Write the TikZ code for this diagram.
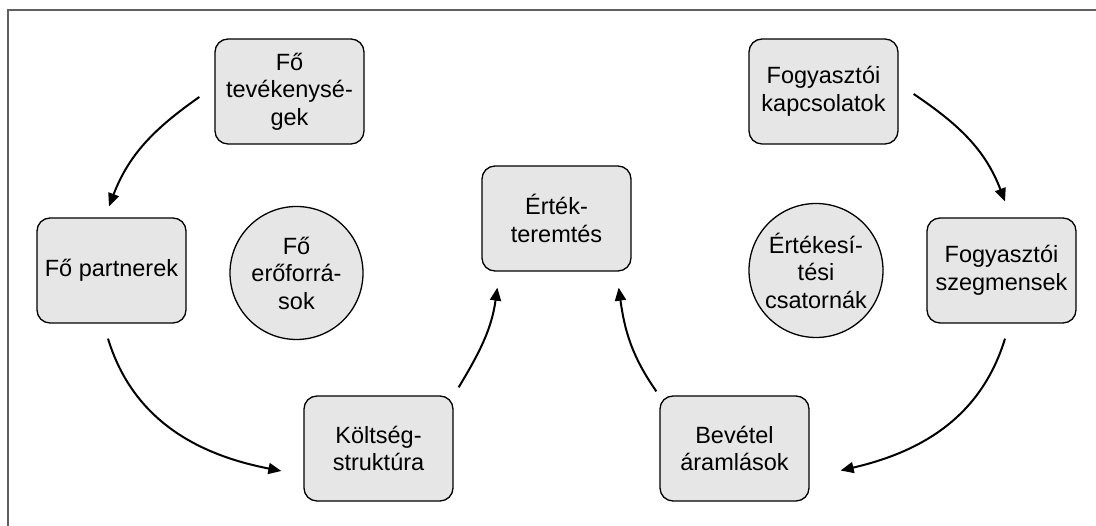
\documentclass[tikz,border=0pt]{standalone}
\usepackage{fontspec}
\setmainfont{Liberation Sans}
\usetikzlibrary{arrows.meta,calc}
\definecolor{boxfill}{HTML}{E6E6E6}
\definecolor{framegray}{HTML}{606060}
\tikzset{
  blk/.style={draw=black,line width=1.3pt,fill=boxfill,rounded corners=13pt,
    minimum width=149pt,minimum height=105pt,inner sep=0pt,align=center,
    font=\fontsize{23.5}{27.5}\selectfont},
  circ/.style={draw=black,line width=1.3pt,fill=boxfill,circle,inner sep=0pt,
    align=center,font=\fontsize{23.5}{27.5}\selectfont},
  conn/.style={line width=2pt,-{Triangle[length=13pt,width=11pt]}}
}
\begin{document}
\begin{tikzpicture}[x=1pt,y=1pt]
\useasboundingbox (0,0) rectangle (1096,526);
\draw[framegray,line width=2pt] (7.5,0) -- (7.5,516) -- (1096,516);

\node[blk] (tev) at (289.5,434.5) {Fő\\tevékenysé-\\gek};
\node[blk] (part) at (111.5,255.5) {Fő partnerek};
\node[circ,minimum size=133pt] (eroforr) at (296.5,253) {Fő\\erőforrá-\\sok};
\node[blk] (kolt) at (378.5,77.5) {Költség-\\struktúra};
\node[blk] (ertek) at (556.5,307.5) {Érték-\\teremtés};
\node[blk] (bev) at (734.5,77.5) {Bevétel\\áramlások};
\node[blk] (fkap) at (823.5,434.5) {Fogyasztói\\kapcsolatok};
\node[blk] (fszeg) at (1001.5,255.5) {Fogyasztói\\szegmensek};
\node[circ,minimum size=134pt] (csat) at (816,255.5) {Értékesí-\\tési\\csatornák};

\draw[conn] ($(tev.west)+(-15,-5.5)$) to[out=215,in=69] ($(part.north)+(-2.5,11)$);
\draw[conn] ($(part.south)+(-3.5,-15)$) to[out=287,in=169] ($(kolt.west)+(-22,-22.5)$);
\draw[conn] ($(kolt.north east)+(5,8)$) to[out=59,in=262] ($(ertek.south west)+(16,-16)$);
\draw[conn] ($(bev.north west)+(-3,4)$) to[out=125,in=278] ($(ertek.south east)+(-13,-16)$);
\draw[conn] ($(fkap.east)+(15,-2.5)$) to[out=326,in=111] ($(fszeg.north)+(3.5,16)$);
\draw[conn] ($(fszeg.south)+(3.5,-15)$) to[out=253,in=13] ($(bev.east)+(31,-22)$);
\end{tikzpicture}
\end{document}
